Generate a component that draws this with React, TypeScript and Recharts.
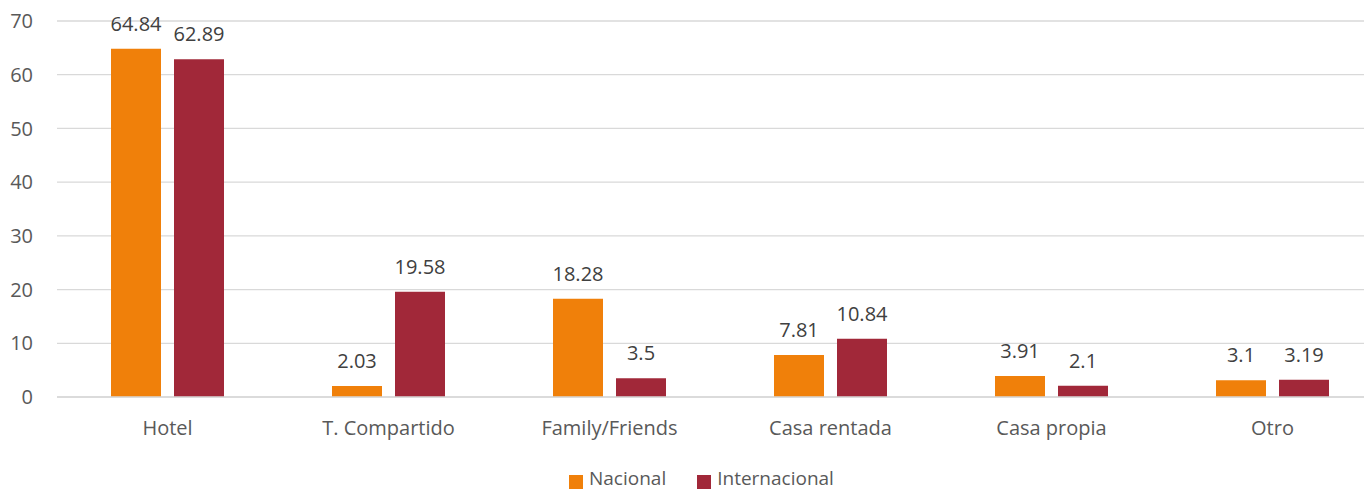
import { BarChart, Bar, XAxis, YAxis, CartesianGrid, LabelList } from "recharts";

const categories = ["Hotel", "T. Compartido", "Family/Friends", "Casa rentada", "Casa propia", "Otro"];
const nacional = [64.84, 2.03, 18.28, 7.81, 3.91, 3.1];
const internacional = [62.89, 19.58, 3.5, 10.84, 2.1, 3.19];
const yTicks = [0, 10, 20, 30, 40, 50, 60, 70];

const NACIONAL_COLOR = "#F0800A";
const INTER_COLOR = "#A12839";
const FONT = "'Open Sans', sans-serif";

const data = categories.map((name, i) => ({
  name,
  nacional: nacional[i],
  internacional: internacional[i],
}));

// legend drawn as plain html so it doesn't eat into the plot's bottom margin
function LegendBox() {
  const item = (color: string, label: string) => (
    <div style={{ display: "flex", alignItems: "flex-start", marginRight: 31 }}>
      <span
        style={{ width: 14, height: 14, background: color, display: "inline-block", marginRight: 6, marginTop: 7 }}
      />
      <span style={{ fontSize: 19, color: "#595959", lineHeight: "20px" }}>{label}</span>
    </div>
  );
  return (
    <div
      style={{
        position: "absolute",
        left: 569,
        top: 468,
        display: "flex",
        fontFamily: FONT,
      }}
    >
      {item(NACIONAL_COLOR, "Nacional")}
      {item(INTER_COLOR, "Internacional")}
    </div>
  );
}

export default function App() {
  return (
    <div
      style={{
        position: "fixed",
        left: 0,
        top: 0,
        width: 1364,
        height: 491,
        overflow: "hidden",
        background: "#fff",
        fontFamily: FONT,
      }}
    >
      <BarChart
        width={1400}
        height={491}
        data={data}
        margin={{ top: 21, right: 17, left: 0, bottom: 54 }}
        barSize={50}
        barGap={13}
      >
        <CartesianGrid vertical={false} stroke="#D9D9D9" strokeWidth={1.3} />
        <XAxis
          dataKey="name"
          height={40}
          axisLine={{ stroke: "#D9D9D9", strokeWidth: 1.3 }}
          tickLine={false}
          tickSize={0}
          tickMargin={24}
          tick={{ fill: "#595959", fontSize: 20, fontFamily: FONT }}
          interval={0}
        />
        <YAxis
          width={57}
          domain={[0, 70]}
          ticks={yTicks}
          axisLine={false}
          tickLine={false}
          tickSize={0}
          tickMargin={24}
          tick={{ fill: "#595959", fontSize: 20, fontFamily: FONT }}
        />
        <Bar dataKey="nacional" fill={NACIONAL_COLOR} isAnimationActive={false}>
          <LabelList dataKey="nacional" position="top" offset={18} fill="#404040" fontSize={20} fontFamily={FONT} />
        </Bar>
        <Bar dataKey="internacional" fill={INTER_COLOR} isAnimationActive={false}>
          <LabelList dataKey="internacional" position="top" offset={18} fill="#404040" fontSize={20} fontFamily={FONT} />
        </Bar>
      </BarChart>
      <LegendBox />
    </div>
  );
}
